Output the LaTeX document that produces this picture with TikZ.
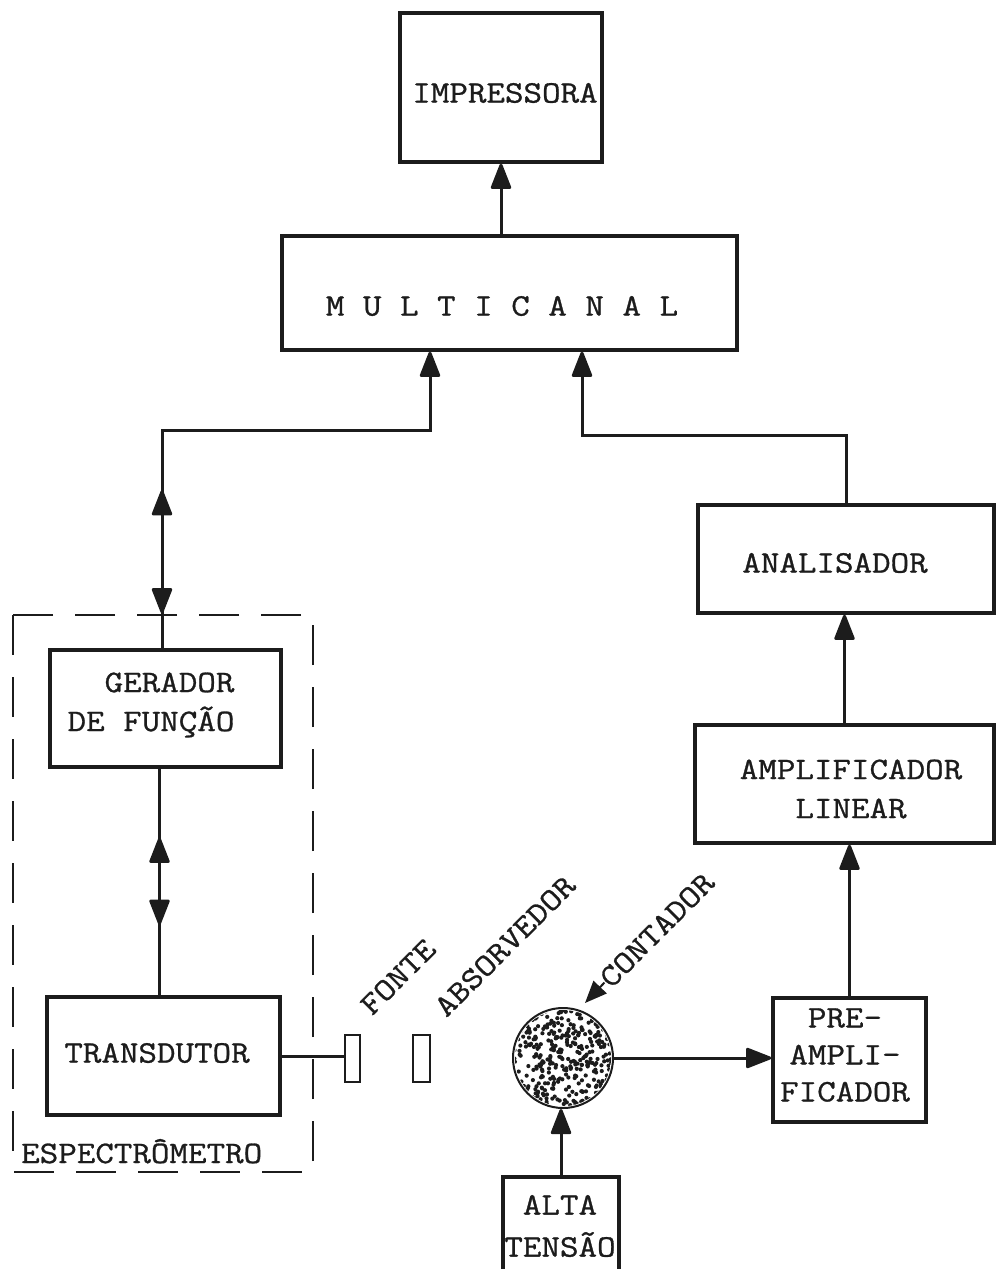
\documentclass[tikz,border=0pt]{standalone}
\usepackage{fontspec}
\newfontfamily\tw{Latin Modern Mono}[FakeStretch=1.15,FakeBold=0.9]
\usetikzlibrary{arrows.meta,decorations.markings}
\definecolor{ink}{HTML}{1C1C1C}
\begin{document}
\begin{tikzpicture}[x=1pt,y=-1pt,
  box/.style={draw=ink, line width=3.5pt, inner sep=0pt},
  lbl/.style={font={\tw\fontsize{31.3pt}{39pt}\selectfont}, text=ink, inner sep=0pt, align=center},
  conn/.style={draw=ink, line width=3pt},
  tip/.style={-{Triangle[width=21pt,length=28pt,round]}},
  midarrows/.style 2 args={postaction={decorate, decoration={markings,
     mark=at position #1 with {\arrowreversed{Triangle[width=21pt,length=28pt,round]}},
     mark=at position #2 with {\arrow{Triangle[width=21pt,length=28pt,round]}}}}},
  ]
\useasboundingbox (0,0) rectangle (997,1269);
\fill[white] (0,0) rectangle (997,1269);

% boxes
\node[box, minimum width=202, minimum height=149] (imp) at (501,87.5) {};
\node[lbl] (impt) at (505,93) {IMPRESSORA};
\node[box, minimum width=455, minimum height=114] (mul) at (509.5,293) {};
\node[lbl] (mult) at (502,306) {M U L T I C A N A L};
\node[box, minimum width=296, minimum height=108] (ana) at (846,559) {};
\node[lbl] (anat) at (835,563) {ANALISADOR};
\node[box, minimum width=299, minimum height=118] (amp) at (844.5,784) {};
\node[lbl] (ampt) at (851,789) {AMPLIFICADOR\\LINEAR};
\node[box, minimum width=153, minimum height=124] (pre) at (849.5,1060) {};
\node[lbl, font={\tw\fontsize{31.3pt}{37pt}\selectfont}] (pret) at (845,1055) {PRE-\\AMPLI-\\FICADOR};
\node[box, minimum width=231, minimum height=117] (ger) at (165.5,708.5) {};
\node[lbl, align=right] (gert) at (151,705) {GERADOR\\DE FUNÇÃO};
\node[box, minimum width=233, minimum height=118] (tra) at (163.5,1056) {};
\node[lbl] (trat) at (157,1053) {TRANSDUTOR};
\node[box, minimum width=116, minimum height=108] (alt) at (561,1231) {};
\node[lbl, font={\tw\fontsize{31.3pt}{42pt}\selectfont}] (altt) at (560,1226) {ALTA\\TENSÃO};

% source and absorber
\node[draw=ink, line width=2.5pt, minimum width=15, minimum height=47, inner sep=0pt] (fon) at (352.5,1058.5) {};
\node[draw=ink, line width=2.5pt, minimum width=17, minimum height=47, inner sep=0pt] (abs) at (421.5,1058.5) {};

% counter
\node[circle, draw=ink, line width=2pt, minimum size=100, inner sep=0pt] (cnt) at (563,1058) {};
\begin{scope}
  \clip (cnt.center) circle (48);
  \pgfmathsetseed{4242}
  \foreach \i in {1,...,330} {
    \pgfmathsetmacro{\dotr}{50*sqrt(rnd)}
    \pgfmathsetmacro{\dota}{360*rnd}
    \fill[ink] (cnt.center) ++(\dota:\dotr) circle (2.1);
  }
\end{scope}

% rotated labels
\node[lbl, rotate=45] (fontet) at (398,977) {FONTE};
\node[lbl, rotate=45] (abst) at (505,946) {ABSORVEDOR};
\node[lbl, rotate=45] (cntt) at (657,930) {CONTADOR};
\coordinate (ctip) at (585,1003);
\draw[draw=ink, line width=2pt, -{Triangle[width=18pt,length=22pt]}] (cntt.west) -- (ctip);

% spectrometer frame
\draw[draw=ink, line width=2pt, dash pattern=on 40pt off 22pt] (13,615) rectangle (313,1172);
\node[lbl, anchor=base west] (esp) at (21,1163) {ESPECTRÔMETRO};

% connectors
\coordinate (lk) at (430,430);
\coordinate (rk) at (582,435);
\draw[conn, tip] (imp.south |- mul.north) -- (imp.south);
\draw[conn, tip, midarrows={35pt}{158pt}] ([xshift=-3.5pt]ger.north) |- (lk) -- (lk |- mul.south);
\draw[conn, tip] (ana.north) |- (rk) -- (rk |- mul.south);
\draw[conn, tip] (amp.north) -- (amp.north |- ana.south);
\draw[conn, tip] (pre.north) -- (pre.north |- amp.south);
\draw[conn, tip] (cnt.east) -- (cnt.east -| pre.west);
\draw[conn, tip] (alt.north) -- (alt.north |- cnt.south);
\draw[conn, postaction={decorate, decoration={markings,
     mark=at position 69pt with {\arrowreversed{Triangle[width=21pt,length=28pt,round]}},
     mark=at position 156pt with {\arrow{Triangle[width=21pt,length=28pt,round]}}}}]
  ([xshift=-6pt]ger.south) -- ([xshift=-6pt]ger.south |- tra.north);
\draw[conn] (tra.east) -- (tra.east -| fon.west);
\end{tikzpicture}
\end{document}
